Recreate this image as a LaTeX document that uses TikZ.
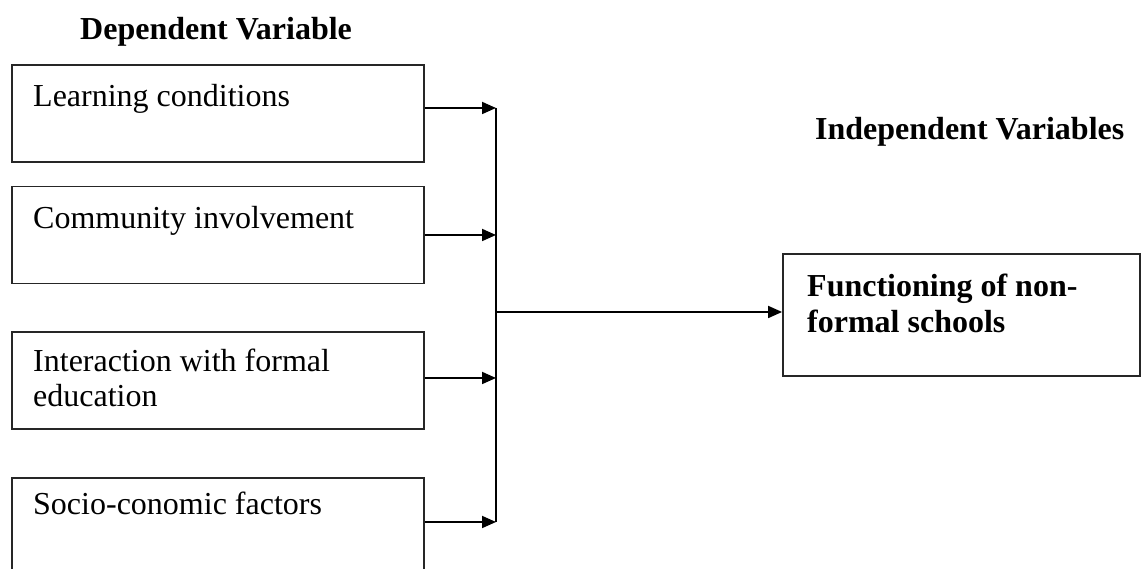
\documentclass[tikz,border=0pt]{standalone}
\usepackage{fontspec}
\setmainfont{Liberation Serif}
\usetikzlibrary{arrows.meta,calc}
\begin{document}
\begin{tikzpicture}[x=1pt,y=1pt,
  box/.style={draw=black!85,line width=1.8pt,minimum width=412pt,minimum height=97pt,inner sep=0pt},
  rbox/.style={draw=black!85,line width=1.8pt,minimum width=357pt,minimum height=122pt,inner sep=0pt},
  txt/.style={anchor=base west,inner sep=0pt,align=left,font=\fontsize{32}{35.5}\selectfont},
  ttl/.style={anchor=base west,inner sep=0pt,font=\fontsize{32}{35.5}\selectfont\bfseries},
  arr/.style={line width=1.8pt,-{Triangle[length=14pt,width=12pt]}},
  ln/.style={line width=1.8pt}]
\useasboundingbox (0,0) rectangle (1141,569);
\clip (0,0) rectangle (1141,569);
% titles
\node[ttl] (t1) at (80,529) {Dependent Variable};
\node[ttl] (t2) at (815,429) {Independent Variables};
% left boxes
\node[box] (b1) at (218,455.5) {};
\node[box] (b2) at (218,334) {};
\node[box] (b3) at (218,188.5) {};
\node[box] (b4) at (218,42.5) {};
\node[txt] (l1) at (33,462) {Learning conditions};
\node[txt] (l2) at (33,340) {Community involvement};
\node[txt] (l3) at (33,162) {Interaction with formal\\education};
\node[txt] (l4) at (33,54) {Socio-conomic factors};
% right box
\node[rbox] (r) at (961.5,254) {};
\node[txt,font=\fontsize{32}{36}\selectfont\bfseries] (rt) at (807,236) {Functioning of non-\\formal schools};
% junction
\coordinate (j) at (496,257);
\coordinate (s1) at ($(b1.east)+(0,5.5)$);
\coordinate (s2) at ($(b2.east)+(0,0)$);
\coordinate (s3) at ($(b3.east)+(0,2.5)$);
\coordinate (s4) at ($(b4.east)+(0,4.5)$);
\draw[arr] (s1) -- (s1 -| j);
\draw[arr] (s2) -- (s2 -| j);
\draw[arr] (s3) -- (s3 -| j);
\draw[arr] (s4) -- (s4 -| j);
\draw[ln] (j |- s1) -- (j |- s4);
\draw[arr] (j) -- (j -| r.west);
\end{tikzpicture}
\end{document}
